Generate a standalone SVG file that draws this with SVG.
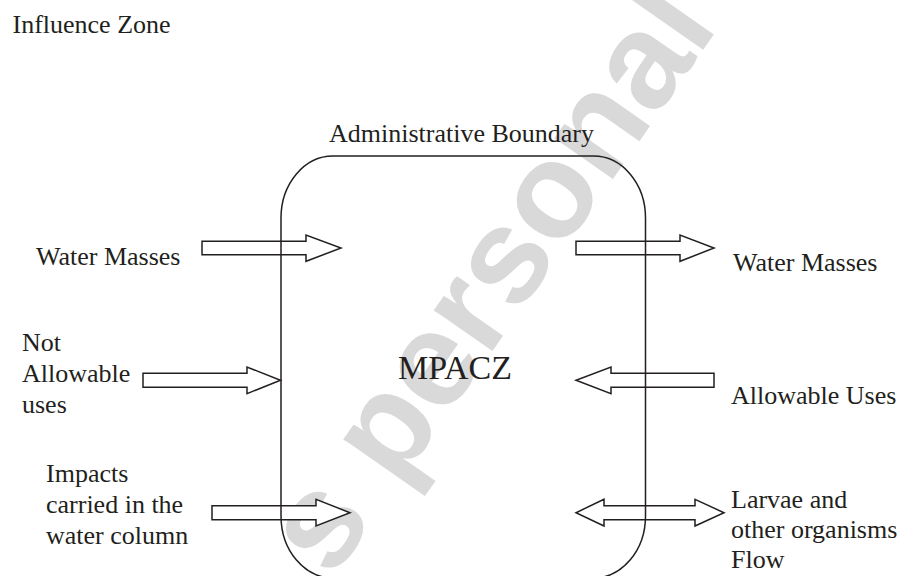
<svg xmlns="http://www.w3.org/2000/svg" width="901" height="576" viewBox="0 0 901 576">
<style>
.t{font-family:"Liberation Serif","Times New Roman",serif;font-size:26px;fill:#231f20}
.big{font-size:34px}
.ar{fill:#fff;stroke:#231f20;stroke-width:1.5;stroke-linejoin:miter}
.bd{fill:none;stroke:#231f20;stroke-width:1.5}
.wm{font-family:"Liberation Sans",Arial,sans-serif;font-weight:bold;font-size:135px;fill:#d9d9d9}
</style>
<rect width="901" height="576" fill="#fff"/>
<text class="wm" transform="translate(332,580) rotate(-55)">s personal</text>
<g id="labels">
<text class="t" x="12.5" y="33">Influence Zone</text>
<text class="t" x="329" y="142">Administrative Boundary</text>
</g>
<g id="connectors">
<polygon class="ar" points="202,241.3 306,241.3 306,235 341,248 306,261.3 306,254.7 202,254.7"/>
<polygon class="ar" points="576,241.3 680,241.3 680,235 714,248 680,261.3 680,254.7 576,254.7"/>
<polygon class="ar" points="143,373.3 247,373.3 247,367 280.5,380.3 247,393.6 247,387.3 143,387.3"/>
<polygon class="ar" points="714,373.3 611,373.3 611,367 576,380.3 611,393.6 611,387.3 714,387.3"/>
<polygon class="ar" points="212,505.7 316,505.7 316,499.3 350,512.7 316,526 316,519.7 212,519.7"/>
<polygon class="ar" points="604,505.7 695,505.7 695,499.3 724,512.7 695,526 695,519.7 604,519.7 604,526 576,512.7 604,499.3"/>
</g>
<g id="boundary">
<rect class="bd" x="281" y="156" width="364.5" height="422" rx="52" ry="62"/>
<text class="t big" x="398" y="379">MPACZ</text>
</g>
<g id="water-masses-in"><text class="t" x="36" y="265">Water Masses</text></g>
<g id="water-masses-out"><text class="t" x="733" y="270.7">Water Masses</text></g>
<g id="not-allowable">
<text class="t" x="22" y="351">Not</text>
<text class="t" x="22" y="382">Allowable</text>
<text class="t" x="22" y="413">uses</text>
</g>
<g id="allowable"><text class="t" x="731" y="404">Allowable Uses</text></g>
<g id="impacts">
<text class="t" x="46" y="482">Impacts</text>
<text class="t" x="46" y="513">carried in the</text>
<text class="t" x="46" y="544">water column</text>
</g>
<g id="larvae">
<text class="t" x="731" y="508">Larvae and</text>
<text class="t" x="731" y="538">other organisms</text>
<text class="t" x="731" y="568">Flow</text>
</g>
</svg>
